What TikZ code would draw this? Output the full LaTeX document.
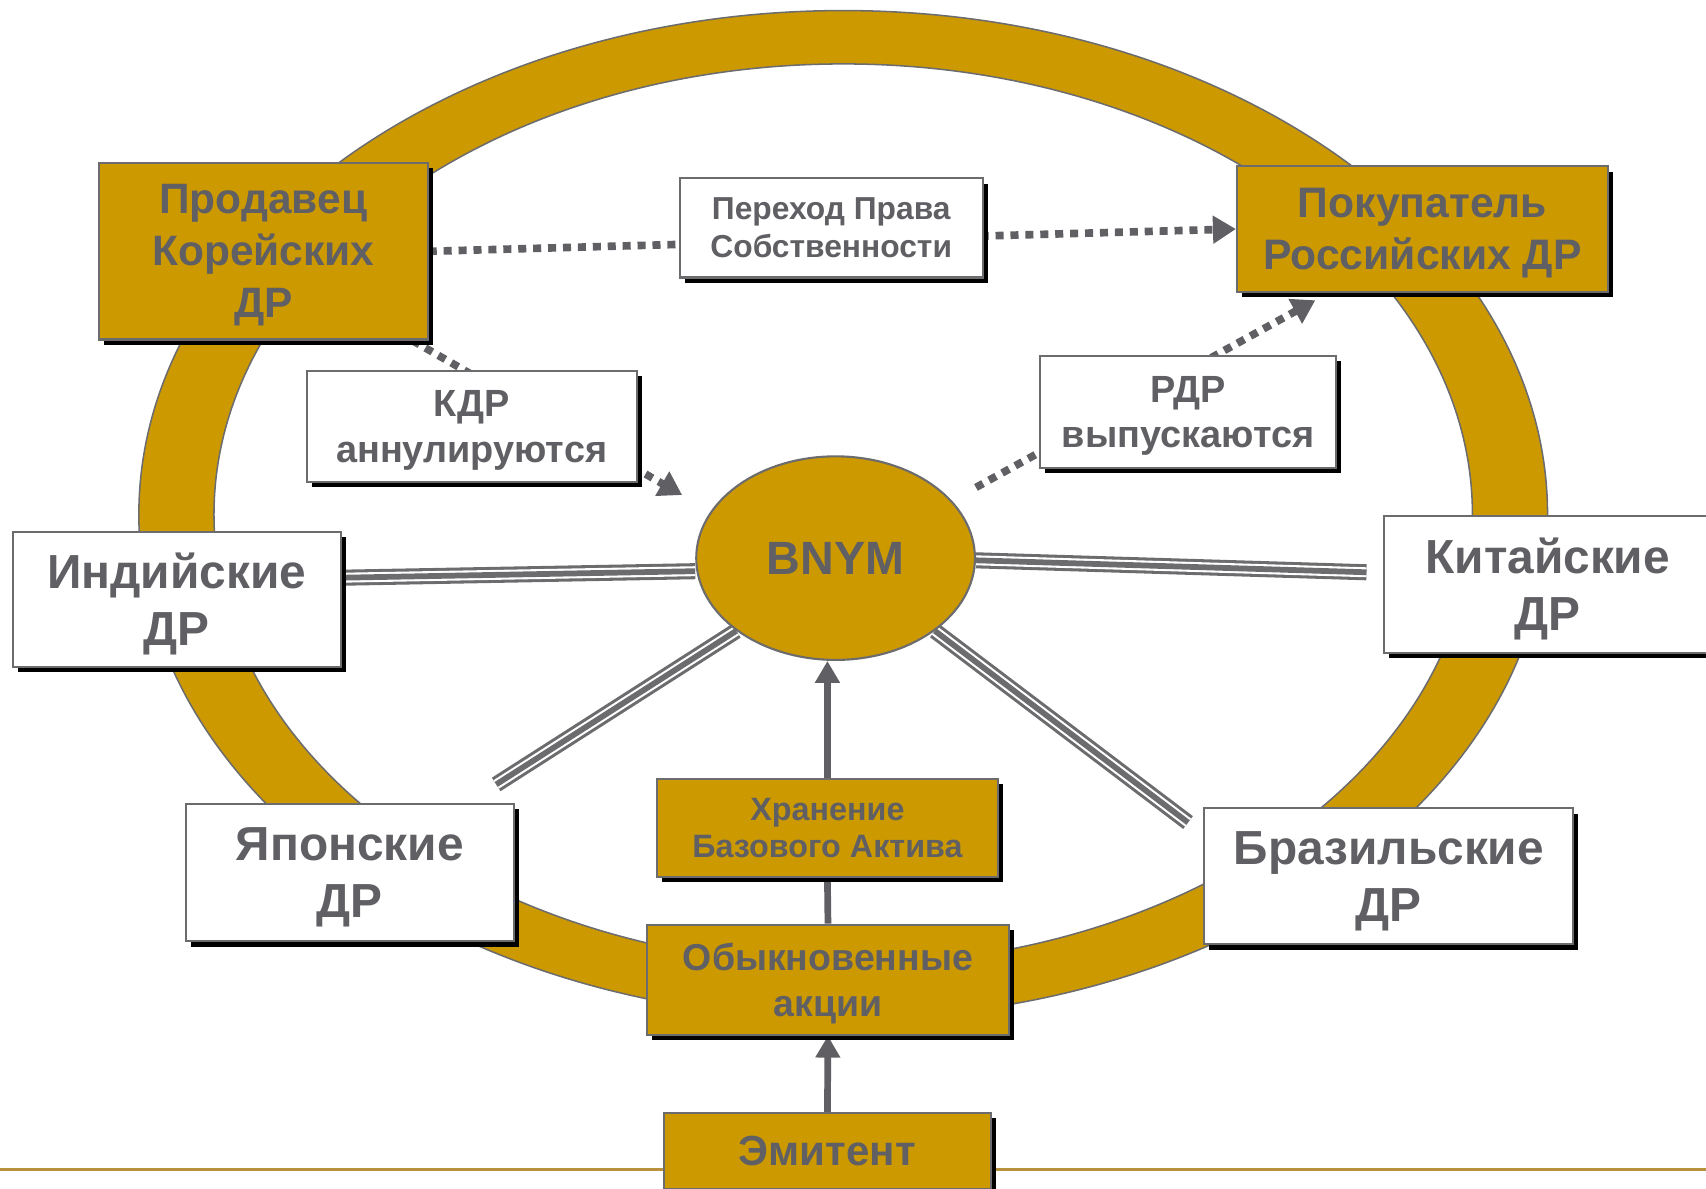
\documentclass[tikz,border=0pt]{standalone}
\usepackage{fontspec}
\setmainfont{Liberation Sans}
\usepackage{tikz}
\usetikzlibrary{calc, arrows.meta, positioning, shapes.geometric, shadows, backgrounds}

\definecolor{gold}{RGB}{204,153,0}
\definecolor{txtgray}{RGB}{96,96,100}
\definecolor{edgegray}{RGB}{108,108,110}
\definecolor{rulegold}{RGB}{184,145,60}

\tikzset{
  drbox/.style={draw=edgegray, line width=0.55pt, text=txtgray, align=center, inner sep=0pt,
    text depth=0pt, font=\bfseries\fontsize{12.5}{14.8}\selectfont,
    drop shadow={shadow xshift=1.3pt, shadow yshift=-1.4pt, fill=black, opacity=1}},
  goldbox/.style={drbox, fill=gold},
  whitebox/.style={drbox, fill=white},
  dotline/.style={draw=txtgray, line width=2pt, dash pattern=on 2.1pt off 1.8pt,
    -{Triangle[length=6pt,width=7pt]}},
  tripleline/.style={draw=edgegray, line width=4.2pt,
    postaction={draw=white, line width=2.6pt},
    postaction={draw=edgegray, line width=1.5pt}},
  solidline/.style={draw=txtgray, line width=1.75pt},
  solidarrow/.style={solidline, -{Triangle[length=5.7pt,width=6.2pt]}}
}

\begin{document}
\begin{tikzpicture}[x=0.01cm, y=-0.01cm]
                  \useasboundingbox (0,0) rectangle (1568,1092);
                  \node[goldbox, minimum width=3.02cm, minimum height=1.62cm, font=\bfseries\fontsize{11.1}{13.6}\selectfont] (prod) at (242,231) {Продавец\\Корейских\\ДР};
                  \node[whitebox, minimum width=2.78cm, minimum height=0.91cm, font=\bfseries\fontsize{8.3}{10}\selectfont] (perehod) at (764,209.5) {Переход Права\\Собственности};
                  \node[goldbox, minimum width=3.41cm, minimum height=1.15cm, font=\bfseries\fontsize{11.15}{13.5}\selectfont] (pokup) at (1307.5,210.5) {Покупатель\\Российских ДР};
                  \node[whitebox, minimum width=3.03cm, minimum height=1.02cm, font=\bfseries\fontsize{9.9}{11.8}\selectfont] (kdr) at (433.5,392) {КДР\\аннулируются};
                  \node[whitebox, minimum width=2.72cm, minimum height=1.03cm, font=\bfseries\fontsize{9.9}{11.8}\selectfont] (rdr) at (1092,378.5) {РДР\\выпускаются};
                  \node[ellipse, draw=edgegray, line width=0.55pt, fill=gold, text=txtgray, inner sep=0pt, minimum width=2.56cm, minimum height=1.87cm, font=\bfseries\fontsize{12.2}{14}\selectfont] (bnym) at (768,513) {BNYM\\[1.25em]};
                  \node[whitebox, minimum width=3.01cm, minimum height=1.24cm] (india) at (162.5,551) {Индийские\\ДР};
                  \node[whitebox, minimum width=3.01cm, minimum height=1.26cm] (china) at (1422.5,537) {Китайские\\ДР};
                  \node[whitebox, minimum width=3.01cm, minimum height=1.26cm] (japan) at (321.5,802) {Японские\\ДР};
                  \node[whitebox, minimum width=3.39cm, minimum height=1.25cm] (brazil) at (1276.5,805.5) {Бразильские\\ДР};
                  \node[goldbox, minimum width=3.13cm, minimum height=0.90cm, font=\bfseries\fontsize{8.45}{9.8}\selectfont] (hran) at (760.5,761) {Хранение\\Базового Актива};
                  \node[goldbox, minimum width=3.32cm, minimum height=1.01cm, font=\bfseries\fontsize{9.8}{12}\selectfont] (akcii) at (761,900.5) {Обыкновенные\\акции};
                  \node[goldbox, minimum width=3.01cm, minimum height=0.70cm, font=\bfseries\fontsize{11}{12}\selectfont] (emit) at (760.5,1058) {Эмитент};
                  \coordinate (kdrstart) at ($(prod.south east)+(-15,0)$);
                  \coordinate (kdrend) at ($(bnym.west)+(-12,-58)$);
                  \coordinate (rdrstart) at ($(bnym.east)+(0,-65)$);
                  \coordinate (rdrend) at ($(pokup.south west)+(73,7)$);
                  \begin{pgfonlayer}{background}
                  \fill[gold, even odd rule, draw=edgegray, line width=0.4pt] (775,473) ellipse [x radius=6.47cm, y radius=4.63cm] (775,473) ellipse [x radius=5.78cm, y radius=4.14cm];
                  \draw[rulegold, line width=0.6pt] (0,1075) -- (1568,1075);
                  \draw[dotline] (prod.east) -- (pokup.west);
                  \draw[dotline] (kdrstart) -- (kdrend);
                  \draw[dotline] (rdrstart) -- (rdrend);
                  \draw[tripleline] ($(india.east)+(0,-20)$) -- ($(bnym.west)+(0,12)$);
                  \draw[tripleline] ($(bnym.east)+(0,2)$) -- ($(china.west)+(-15,-11)$);
                  \draw[tripleline] ($(japan.north east)+(-17,-17)$) -- (bnym.south west);
                  \draw[tripleline] (bnym.south east) -- ($(brazil.north west)+(-14,14)$);
                  \draw[solidarrow] (hran.north) -- (hran.north |- bnym.south);
                  \draw[solidline] (akcii.north) -- (hran.south);
                  \draw[solidarrow] (emit.north) -- (akcii.south);
                  \end{pgfonlayer}
               \end{tikzpicture}
\end{document}
